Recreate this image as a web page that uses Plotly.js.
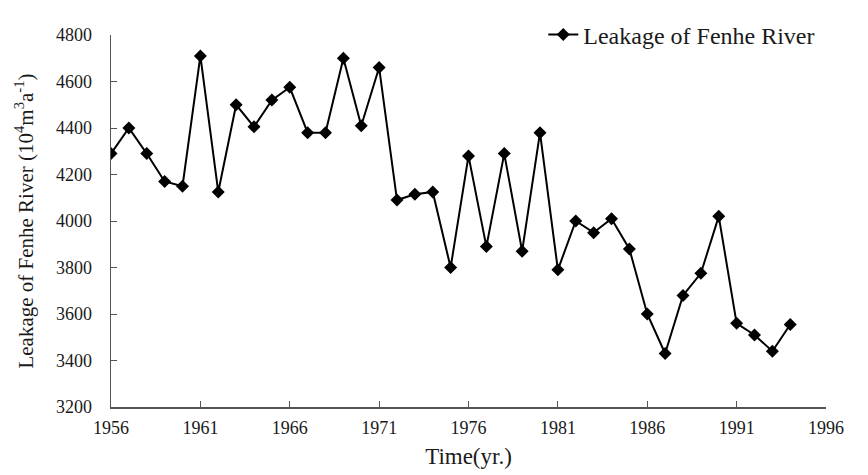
<!DOCTYPE html>
<html>
<head>
<meta charset="utf-8">
<script src="https://cdn.plot.ly/plotly-3.0.1.min.js"></script>
<style>html,body{margin:0;padding:0;background:#fff;}#chart{width:868px;height:475px;}</style>
</head>
<body>
<div id="chart"></div>
<script>
const years = [1956,1957,1958,1959,1960,1961,1962,1963,1964,1965,1966,1967,1968,1969,1970,1971,1972,1973,1974,1975,1976,1977,1978,1979,1980,1981,1982,1983,1984,1985,1986,1987,1988,1989,1990,1991,1992,1993,1994];
const leakage = [4290,4400,4290,4170,4150,4710,4125,4500,4405,4520,4575,4380,4380,4700,4410,4660,4090,4115,4125,3800,4280,3890,4290,3870,4380,3790,4000,3950,4010,3880,3600,3430,3680,3775,4020,3560,3510,3440,3555];
const xTicks = [1956,1961,1966,1971,1976,1981,1986,1991,1996];
const yTicks = [3200,3400,3600,3800,4000,4200,4400,4600,4800];

const trace = {
  x: years, y: leakage, type: 'scatter', mode: 'lines+markers',
  name: 'Leakage of Fenhe River',
  line: {color: '#000', width: 2},
  marker: {symbol: 'diamond', size: 10, color: '#000'}
};
const font = {family: '"Liberation Serif", "Times New Roman", serif', color: '#1a1a1a'};
const layout = {
  width: 868, height: 475,
  margin: {l: 111, r: 42, t: 17, b: 68},
  paper_bgcolor: '#fff', plot_bgcolor: '#fff',
  font: Object.assign({size: 18}, font),
  showlegend: true,
  legend: {x: 0.992, xanchor: 'right', y: 1.0, yanchor: 'middle', bgcolor: 'rgba(0,0,0,0)', font: Object.assign({size: 24}, font), itemwidth: 30},
  xaxis: {
    range: [1956, 1996], tickvals: xTicks, ticktext: xTicks.map(String),
    showline: true, linecolor: '#555', linewidth: 1.5, mirror: false,
    ticks: 'inside', ticklen: 6, tickcolor: '#555', showgrid: false, zeroline: false,
    tickfont: Object.assign({size: 18}, font), ticklabelstandoff: 4,
    title: {text: 'Time(yr.)', font: Object.assign({size: 23}, font), standoff: 11}
  },
  yaxis: {
    range: [3200, 4800], tickvals: yTicks, ticktext: yTicks.map(String),
    showline: true, linecolor: '#555', linewidth: 1.5,
    ticks: 'inside', ticklen: 6, tickcolor: '#555', showgrid: false, zeroline: false,
    tickfont: Object.assign({size: 18}, font), ticklabelstandoff: 14,
    title: {text: 'Leakage of Fenhe River (10<sup>4</sup>m<sup>3</sup>a<sup>-1</sup>)', font: Object.assign({size: 21}, font), standoff: 16}
  }
};
Plotly.newPlot('chart', [trace], layout, {displayModeBar: false, staticPlot: true});
</script>
</body>
</html>
